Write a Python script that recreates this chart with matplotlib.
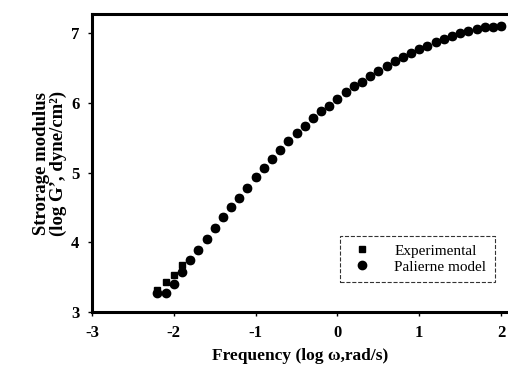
import matplotlib.pyplot as plt

plt.rcParams['font.family'] = ['Liberation Serif', 'DejaVu Serif']
plt.rcParams['axes.unicode_minus'] = False

# log frequency (rad/s)
freq = [-2.2, -2.1, -2.0, -1.9, -1.8, -1.7, -1.6, -1.5, -1.4, -1.3,
        -1.2, -1.1, -1.0, -0.9, -0.8, -0.7, -0.6, -0.5, -0.4, -0.3,
        -0.2, -0.1, 0.0, 0.1, 0.2, 0.3, 0.4, 0.5, 0.6, 0.7,
        0.8, 0.9, 1.0, 1.1, 1.2, 1.3, 1.4, 1.5, 1.6, 1.7,
        1.8, 1.9, 2.0]
# log G' experimental
exp_g = [3.32, 3.43, 3.53, 3.68, 3.75, 3.89, 4.05, 4.21, 4.37, 4.51,
         4.64, 4.78, 4.93, 5.06, 5.20, 5.32, 5.45, 5.56, 5.66, 5.78,
         5.88, 5.96, 6.06, 6.15, 6.24, 6.30, 6.38, 6.45, 6.53, 6.60,
         6.65, 6.71, 6.77, 6.81, 6.87, 6.91, 6.96, 7.00, 7.03, 7.06,
         7.09, 7.09, 7.10]
# log G' Palierne model
model_g = [3.27, 3.27, 3.40, 3.58, 3.75, 3.89, 4.05, 4.21, 4.37, 4.51,
           4.64, 4.78, 4.93, 5.06, 5.20, 5.32, 5.45, 5.56, 5.66, 5.78,
           5.88, 5.96, 6.06, 6.15, 6.24, 6.30, 6.38, 6.45, 6.53, 6.60,
           6.65, 6.71, 6.77, 6.81, 6.87, 6.91, 6.96, 7.00, 7.03, 7.06,
           7.09, 7.09, 7.10]

fig = plt.figure(figsize=(5.08, 3.72), dpi=100)
ax = fig.add_axes([0.181, 0.161, 0.82, 0.801])

ax.plot(freq, exp_g, 's', color='black', ms=4.6, label='Experimental')
ax.plot(freq, model_g, 'o', color='black', ms=6, label='Palierne model')

ax.set_xlim(-3, 2.09)
ax.set_ylim(3, 7.27)
ax.set_xticks([-3, -2, -1, 0, 1, 2])
ax.set_yticks([3, 4, 5, 6, 7])
ax.tick_params(direction='out', length=3, width=1, labelsize=12, pad=6)
for lab in ax.get_xticklabels() + ax.get_yticklabels():
    lab.set_fontweight('bold')

for s in ['left', 'top', 'bottom']:
    ax.spines[s].set_linewidth(2.2)
ax.spines['right'].set_visible(False)

ax.set_xlabel('Frequency (log \u03c9,rad/s)', fontsize=12.5, fontweight='bold')
ax.xaxis.set_label_coords(0.5, -0.12)
ax.set_ylabel('Strorage modulus\n(log G\u2019, dyne/cm\u00b2)', fontsize=13.5,
              fontweight='bold', linespacing=0.95)
ax.yaxis.set_label_coords(-0.06, 0.5)

leg = ax.legend(loc='lower right', bbox_to_anchor=(0.985, 0.075), fontsize=11,
                frameon=True, fancybox=False, edgecolor='black', handletextpad=1.2,
                borderpad=0.55, labelspacing=0.15, handlelength=1.8)
leg.get_frame().set_linewidth(0.8)
leg.get_frame().set_linestyle('--')

fig.savefig('out.png', dpi=100)
